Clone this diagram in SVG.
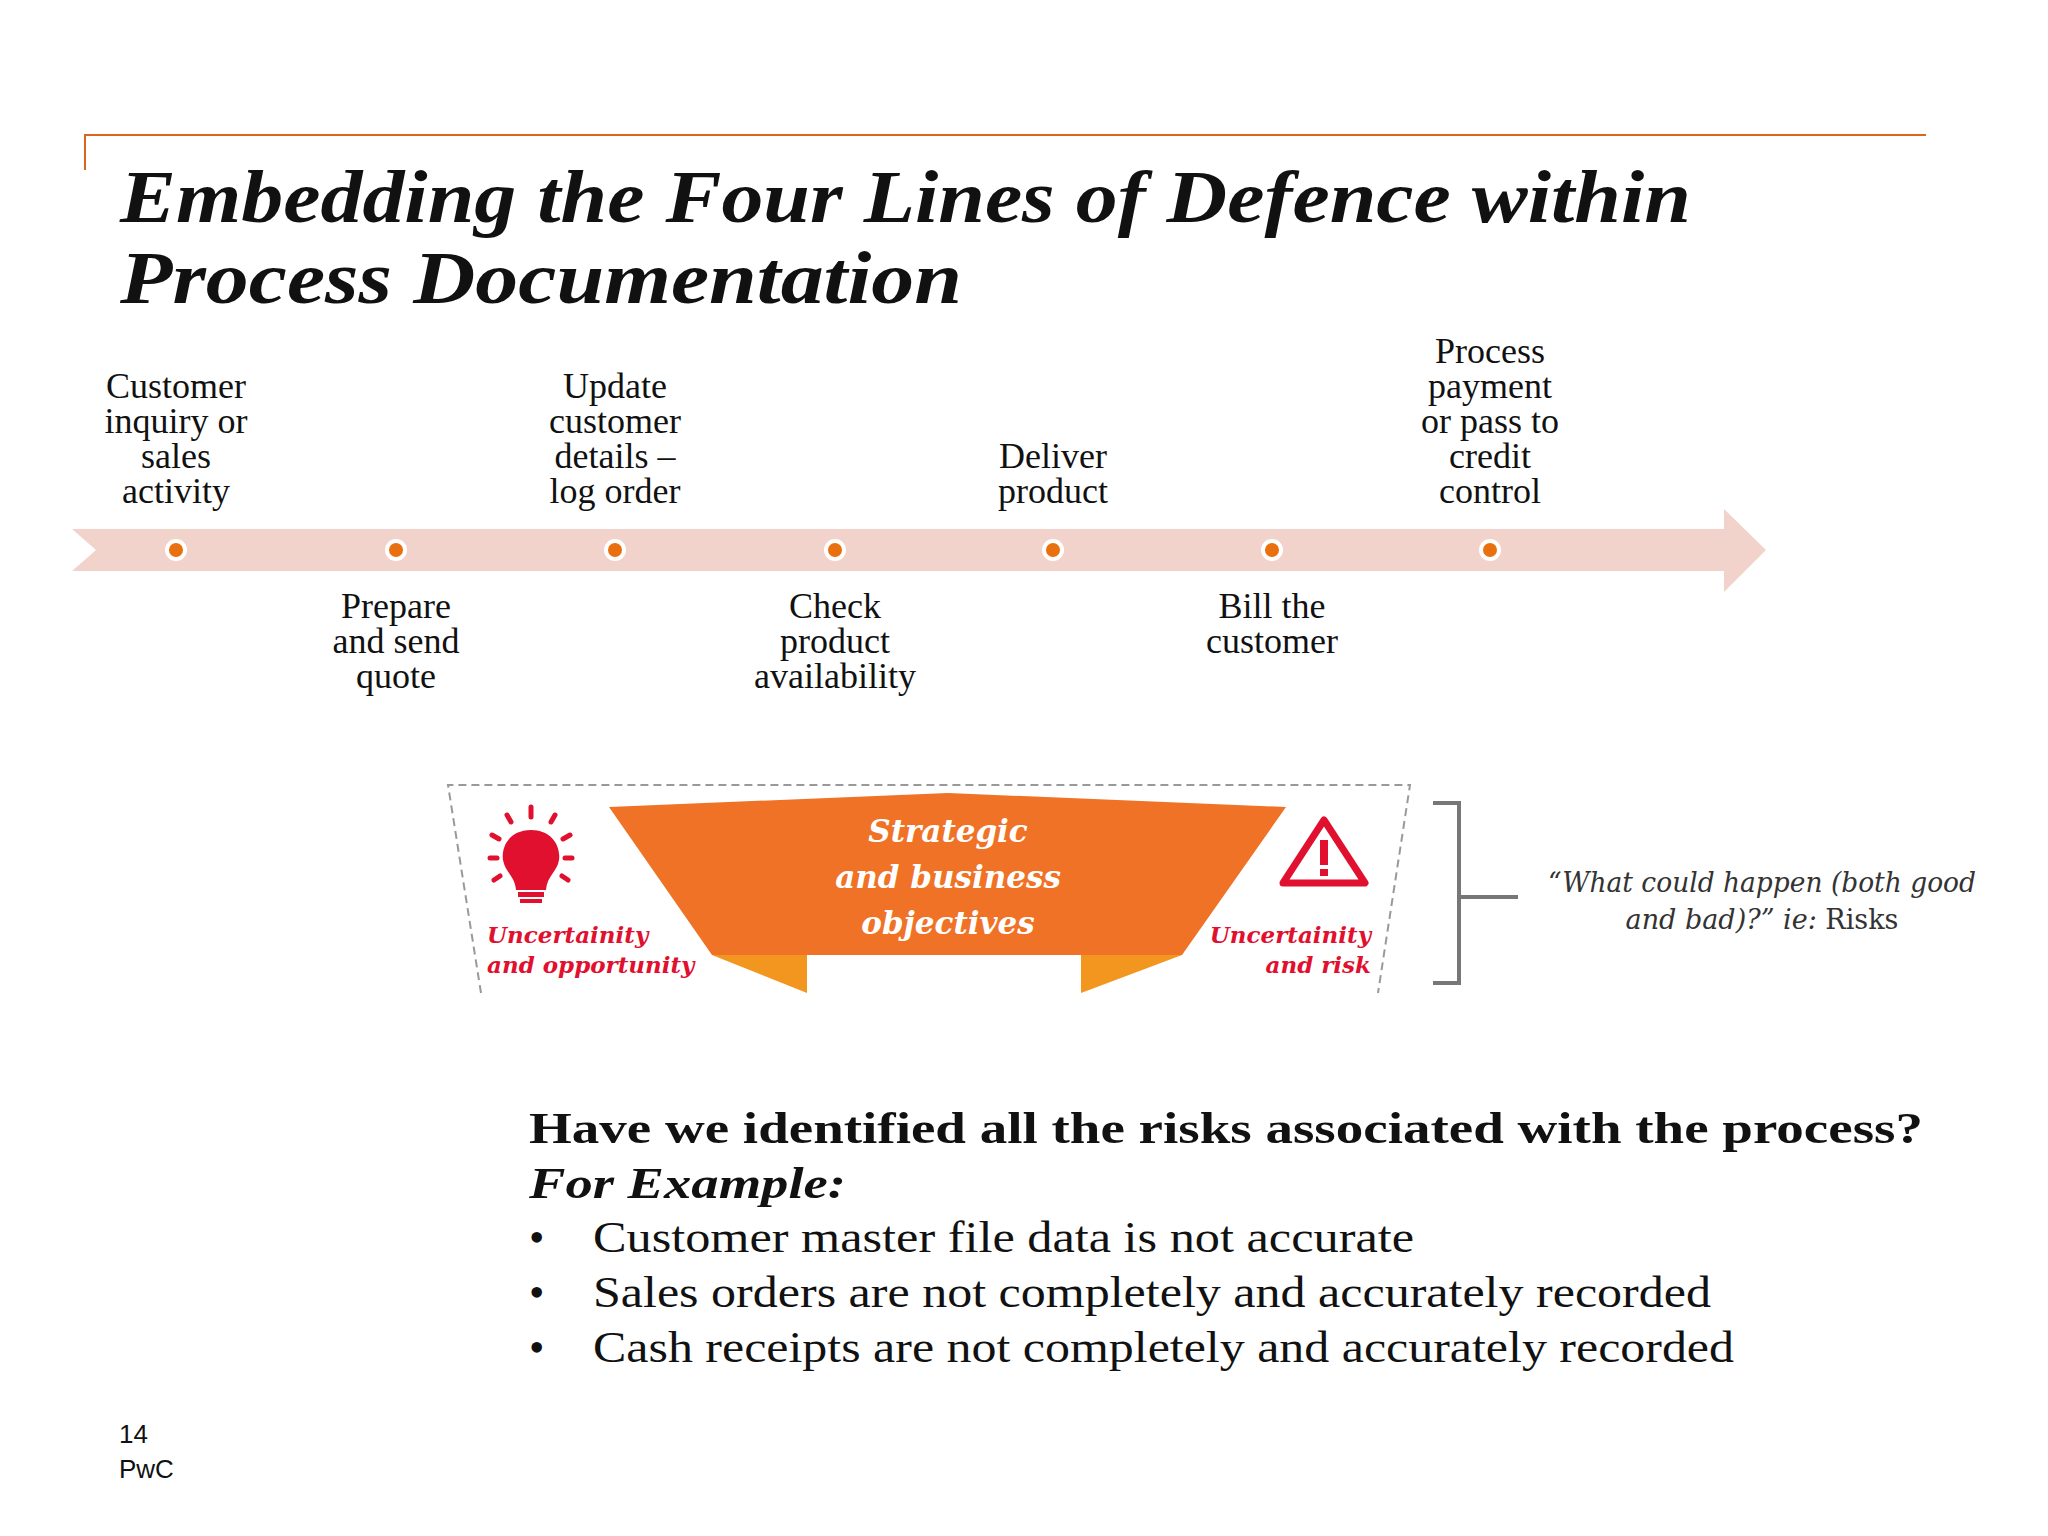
<svg xmlns="http://www.w3.org/2000/svg" width="2048" height="1536" viewBox="0 0 2048 1536">
<style>
.t{font-family:"Liberation Serif",serif;font-size:36px;fill:#111;text-anchor:middle}
.red{font-family:"DejaVu Serif",serif;font-style:italic;font-weight:bold;font-size:23px;fill:#E0102E}
.b{font-family:"Liberation Serif",serif;font-size:44px;fill:#111}
</style>
<rect width="2048" height="1536" fill="#fff"/>
<path d="M85,170 V135 H1926" fill="none" stroke="#D9661E" stroke-width="2"/>
<g font-family="Liberation Serif,serif" font-weight="bold" font-style="italic" font-size="74" fill="#111">
<text x="120" y="222" textLength="1571" lengthAdjust="spacingAndGlyphs">Embedding the Four Lines of Defence within</text>
<text x="120" y="303" textLength="842" lengthAdjust="spacingAndGlyphs">Process Documentation</text>
</g>
<g id="timeline">
<path d="M72,529 H1724 V509 L1766,550 L1724,592 V571 H72 L96,550 Z" fill="#F2D3CB"/>
<g fill="#E8700E" stroke="#fff" stroke-width="4">
<circle cx="176" cy="550" r="9"/><circle cx="396" cy="550" r="9"/><circle cx="615" cy="550" r="9"/><circle cx="835" cy="550" r="9"/><circle cx="1053" cy="550" r="9"/><circle cx="1272" cy="550" r="9"/><circle cx="1490" cy="550" r="9"/>
</g>
</g>
<g id="s1"><text class="t" x="176" y="398">Customer</text><text class="t" x="176" y="433">inquiry or</text><text class="t" x="176" y="468">sales</text><text class="t" x="176" y="503">activity</text></g>
<g id="s2"><text class="t" x="396" y="618">Prepare</text><text class="t" x="396" y="653">and send</text><text class="t" x="396" y="688">quote</text></g>
<g id="s3"><text class="t" x="615" y="398">Update</text><text class="t" x="615" y="433">customer</text><text class="t" x="615" y="468">details –</text><text class="t" x="615" y="503">log order</text></g>
<g id="s4"><text class="t" x="835" y="618">Check</text><text class="t" x="835" y="653">product</text><text class="t" x="835" y="688">availability</text></g>
<g id="s5"><text class="t" x="1053" y="468">Deliver</text><text class="t" x="1053" y="503">product</text></g>
<g id="s6"><text class="t" x="1272" y="618">Bill the</text><text class="t" x="1272" y="653">customer</text></g>
<g id="s7"><text class="t" x="1490" y="363">Process</text><text class="t" x="1490" y="398">payment</text><text class="t" x="1490" y="433">or pass to</text><text class="t" x="1490" y="468">credit</text><text class="t" x="1490" y="503">control</text></g>
<g id="banner">
<path d="M481,993 L448,785 H1410 L1378,993" fill="none" stroke="#999" stroke-width="2" stroke-dasharray="8,5"/>
<path d="M712,955 H807 V993 Z" fill="#F39620"/>
<path d="M1081,955 H1182 L1081,993 Z" fill="#F39620"/>
<path d="M609,807 L948,793 L1286,807 L1182,955 H712 Z" fill="#F07226"/>
<g font-family="DejaVu Serif,serif" font-style="italic" font-weight="bold" font-size="31" fill="#fff" text-anchor="middle">
<text x="948" y="842">Strategic</text><text x="948" y="888">and business</text><text x="948" y="934">objectives</text>
</g>
<g fill="#E0102E" stroke="#E0102E">
<path d="M531,830 c-20,0 -30,15 -28,30 c2,12 12,16 13,30 h30 c1,-14 11,-18 13,-30 c2,-15 -8,-30 -28,-30z" stroke="none"/>
<rect x="518" y="892" width="26" height="5" stroke="none"/><rect x="520" y="899" width="22" height="4" stroke="none"/>
<g stroke-width="5" stroke-linecap="round">
<line x1="531" y1="807" x2="531" y2="817"/><line x1="507" y1="815" x2="511" y2="822"/><line x1="555" y1="815" x2="551" y2="822"/>
<line x1="492" y1="835" x2="499" y2="839"/><line x1="570" y1="835" x2="563" y2="839"/><line x1="490" y1="858" x2="497" y2="858"/><line x1="572" y1="858" x2="565" y2="858"/>
<line x1="494" y1="880" x2="500" y2="876"/><line x1="568" y1="880" x2="562" y2="876"/>
</g>
<path d="M1324,820 L1365,883 H1283 Z" fill="none" stroke-width="7" stroke-linejoin="round"/>
<rect x="1320" y="840" width="8" height="25" stroke="none"/><rect x="1320" y="869" width="8" height="7" stroke="none"/>
</g>
<text class="red" x="487" y="943">Uncertainity</text><text class="red" x="487" y="973">and opportunity</text>
<text class="red" x="1371" y="943" text-anchor="end">Uncertainity</text><text class="red" x="1371" y="973" text-anchor="end">and risk</text>
</g>
<g id="bracket" stroke="#777" stroke-width="4" fill="none">
<path d="M1433,803 H1459 V983 H1433 M1459,897 H1518"/>
</g>
<g id="quote" font-family="DejaVu Serif,serif" font-style="italic" font-size="27" fill="#333" text-anchor="middle">
<text x="1762" y="892" textLength="428" lengthAdjust="spacingAndGlyphs">“What could happen (both good</text>
<text x="1762" y="929">and bad)?” ie: <tspan font-style="normal">Risks</tspan></text>
</g>
<g id="bottom">
<text class="b" x="529" y="1143" font-weight="bold" textLength="1394" lengthAdjust="spacingAndGlyphs">Have we identified all the risks associated with the process?</text>
<text class="b" x="529" y="1198" font-weight="bold" font-style="italic" textLength="317" lengthAdjust="spacingAndGlyphs">For Example:</text>
<text class="b" x="529" y="1252">•</text><text class="b" x="593" y="1252" textLength="821" lengthAdjust="spacingAndGlyphs">Customer master file data is not accurate</text>
<text class="b" x="529" y="1307">•</text><text class="b" x="593" y="1307" textLength="1118" lengthAdjust="spacingAndGlyphs">Sales orders are not completely and accurately recorded</text>
<text class="b" x="529" y="1362">•</text><text class="b" x="593" y="1362" textLength="1141" lengthAdjust="spacingAndGlyphs">Cash receipts are not completely and accurately recorded</text>
</g>
<g font-family="Liberation Sans,sans-serif" font-size="26" fill="#111">
<text x="119" y="1443">14</text><text x="119" y="1478">PwC</text>
</g>
</svg>
